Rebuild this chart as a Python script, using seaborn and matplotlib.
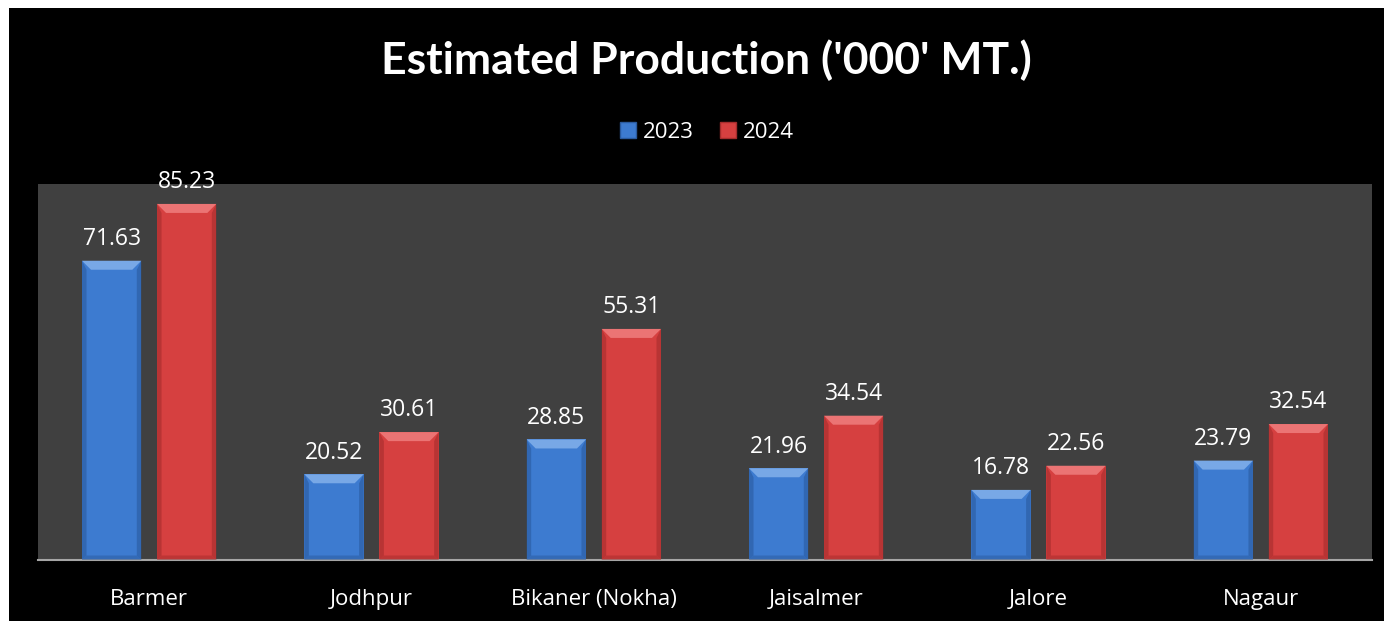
import matplotlib
matplotlib.use("Agg")
import matplotlib.pyplot as plt
import seaborn as sns
import pandas as pd
from matplotlib.patches import Polygon, Rectangle, Patch

categories = ["Barmer", "Jodhpur", "Bikaner (Nokha)", "Jaisalmer", "Jalore", "Nagaur"]
years = ["2023", "2024"]
v2023 = [71.63, 20.52, 28.85, 21.96, 16.78, 23.79]
v2024 = [85.23, 30.61, 55.31, 34.54, 22.56, 32.54]

df = pd.DataFrame({
    "District": categories * 2,
    "Year": [years[0]] * len(categories) + [years[1]] * len(categories),
    "Value": v2023 + v2024,
})

sns.set_theme(style="white")
plt.rcParams['font.family'] = ['Open Sans', 'DejaVu Sans']

W, H = 1384, 621
fig = plt.figure(figsize=(W / 100, H / 100), dpi=100, facecolor="white")
# black chart background (white margins at top/left like reference)
fig.patches.append(Rectangle((9 / W, 0), 1, 1 - 8 / H, transform=fig.transFigure,
                             facecolor="black", edgecolor="none", zorder=-10))

ax = fig.add_axes([38 / W, (H - 560) / H, (1372 - 38) / W, (560 - 184) / H])
ax.set_facecolor("#404040")

colors = {"2023": "#3D7BD0", "2024": "#D64040"}
light = {"2023": "#78A8E6", "2024": "#EB7474"}
dark = {"2023": "#2A5A9E", "2024": "#A52C2C"}

sns.barplot(data=df, x="District", y="Value", hue="Year", palette=colors,
            order=categories, hue_order=years, width=0.675, gap=0.21,
            ax=ax, legend=False, edgecolor="none", saturation=1)

ax.set_ylim(0, 90)
ax.set_xlim(-0.5, len(categories) - 0.5)

# bevel decoration and value labels
px_x = ((1372 - 38)) / len(categories)
px_y = (560 - 184) / 90.0
bx = 9 / px_x
by = 9 / px_y
for i, p in enumerate(ax.patches):
    yr = years[i // len(categories)]
    x, w = p.get_x(), p.get_width()
    h = p.get_height()
    top = h
    ax.add_patch(Polygon([(x, top), (x + w, top), (x + w - bx, top - by), (x + bx, top - by)],
                         closed=True, facecolor=light[yr], edgecolor="none", zorder=3))
    ax.add_patch(Polygon([(x, 0), (x + bx * 0.5, by * 0.5), (x + bx * 0.5, top - by), (x, top)],
                         closed=True, facecolor=dark[yr], edgecolor="none", alpha=0.6, zorder=3))
    ax.add_patch(Polygon([(x + w, 0), (x + w - bx * 0.5, by * 0.5), (x + w - bx * 0.5, top - by), (x + w, top)],
                         closed=True, facecolor=dark[yr], edgecolor="none", alpha=0.6, zorder=3))
    ax.add_patch(Polygon([(x, 0), (x + w, 0), (x + w - bx * 0.5, by * 0.5), (x + bx * 0.5, by * 0.5)],
                         closed=True, facecolor=dark[yr], edgecolor="none", alpha=0.5, zorder=3))
    ax.annotate(f"{h:.2f}", (x + w / 2, top), xytext=(0, 7), textcoords="offset points",
                ha="center", va="bottom", color="white", fontsize=16.5)

for s in ["top", "right", "left"]:
    ax.spines[s].set_visible(False)
ax.spines["bottom"].set_color("#A6A6A6")
ax.spines["bottom"].set_linewidth(1.5)
ax.set_yticks([])
ax.set_xlabel("")
ax.set_ylabel("")
ax.tick_params(axis="x", length=0, colors="white", labelsize=16, pad=21)

fig.text(706 / W, 1 - 60 / H, "Estimated Production ('000' MT.)", ha="center", va="center",
         color="white", fontsize=32, fontweight="bold", family=["Lato", "DejaVu Sans"])

handles = [Patch(facecolor=colors[y], edgecolor=dark[y], label=y) for y in years]
fig.legend(handles=handles, loc="center", bbox_to_anchor=(707 / W, 1 - 132 / H), ncol=2,
           frameon=False, labelcolor="white", fontsize=16, handlelength=0.72, handleheight=0.72,
           handletextpad=0.3, columnspacing=1.2, borderpad=0.2)

fig.savefig("out.png", dpi=100, facecolor=fig.get_facecolor())
